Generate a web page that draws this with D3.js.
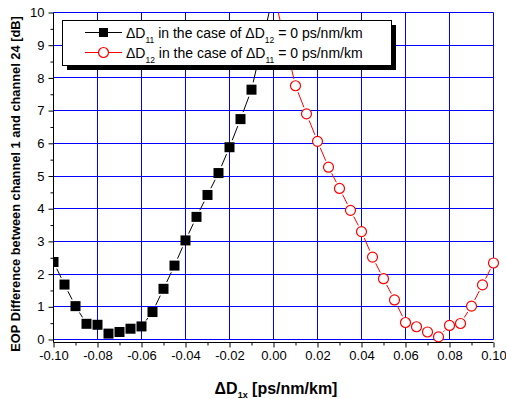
<!DOCTYPE html>
<html><head><meta charset="utf-8">
<script src="https://cdn.jsdelivr.net/npm/d3@7"></script>
<style>body{margin:0;background:#fff} text{font-family:"Liberation Sans",Arial,sans-serif}</style>
</head><body><svg id="c" width="506" height="399"></svg>
<script>
// ---- data ----
const blackX = [-0.100,-0.095,-0.090,-0.085,-0.080,-0.075,-0.070,-0.065,-0.060,-0.055,-0.050,-0.045,-0.040,-0.035,-0.030,-0.025,-0.020,-0.015,-0.010,-0.005,0.000];
const blackY = [2.37,1.68,1.02,0.48,0.45,0.18,0.23,0.33,0.40,0.84,1.55,2.26,3.03,3.75,4.42,5.09,5.88,6.74,7.64,9.10,10.60];
const redX = [0.000,0.005,0.010,0.015,0.020,0.025,0.030,0.035,0.040,0.045,0.050,0.055,0.060,0.065,0.070,0.075,0.080,0.085,0.090,0.095,0.100];
const redY = [10.60,9.20,7.76,6.90,6.06,5.27,4.62,3.95,3.30,2.52,1.86,1.21,0.52,0.39,0.23,0.08,0.43,0.49,1.02,1.67,2.34];
const xMajorTicks = [-0.10,-0.08,-0.06,-0.04,-0.02,0.00,0.02,0.04,0.06,0.08,0.10];
const xMinorTicks = [-0.09,-0.07,-0.05,-0.03,-0.01,0.01,0.03,0.05,0.07,0.09];
const yMajorTicks = [0,1,2,3,4,5,6,7,8,9,10];
const yMinorTicks = [0.5,1.5,2.5,3.5,4.5,5.5,6.5,7.5,8.5,9.5];
const legendLabels = [
  {main:"\u0394D", sub:"11", rest:" in the case of \u0394D", sub2:"12", tail:" = 0 ps/nm/km"},
  {main:"\u0394D", sub:"12", rest:" in the case of \u0394D", sub2:"11", tail:" = 0 ps/nm/km"}
];

const svg = d3.select("#c");
svg.append("rect").attr("width",506).attr("height",399).attr("fill","#fff");
const L = 53.5, R = 493.5, T = 12.5, B = 339.5;
const x = d3.scaleLinear().domain([-0.1,0.1]).range([L,R]);
const y = d3.scaleLinear().domain([0,10]).range([B,T]);

// grid
const g = svg.append("g");
g.selectAll(".vg").data(xMajorTicks.slice(1)).join("line")
  .attr("x1",d=>Math.round(x(d)-0.5)+0.5).attr("x2",d=>Math.round(x(d)-0.5)+0.5)
  .attr("y1",T).attr("y2",B).attr("stroke","#0000ff").attr("stroke-width",1);
g.selectAll(".hg").data(yMajorTicks).join("line")
  .attr("y1",d=>Math.round(y(d)-0.5)+0.5).attr("y2",d=>Math.round(y(d)-0.5)+0.5)
  .attr("x1",L).attr("x2",R).attr("stroke","#0000ff").attr("stroke-width",1);

// clip
svg.append("clipPath").attr("id","clip").append("rect").attr("x",L).attr("y",T-0.5).attr("width",R-L+6).attr("height",B-T+6);
const plot = svg.append("g").attr("clip-path","url(#clip)");

function segs(xs, ys, trim){
  const out=[];
  for(let i=0;i<xs.length-1;i++){
    const x1=x(xs[i]),y1=y(ys[i]),x2=x(xs[i+1]),y2=y(ys[i+1]);
    const dx=x2-x1,dy=y2-y1,d=Math.hypot(dx,dy);
    if(d>2*trim){const ux=dx/d,uy=dy/d;out.push([x1+ux*trim,y1+uy*trim,x2-ux*trim,y2-uy*trim]);}
  }
  return out;
}
plot.selectAll(".bl").data(segs(blackX,blackY,7.5)).join("line")
  .attr("x1",d=>d[0]).attr("y1",d=>d[1]).attr("x2",d=>d[2]).attr("y2",d=>d[3])
  .attr("stroke","#000").attr("stroke-width",1);
plot.selectAll(".rl").data(segs(redX,redY,7)).join("line")
  .attr("x1",d=>d[0]).attr("y1",d=>d[1]).attr("x2",d=>d[2]).attr("y2",d=>d[3])
  .attr("stroke","#ff0000").attr("stroke-width",1);
const bIdx = d3.range(blackX.length).filter(i=>blackY[i]<=10);
plot.selectAll(".sq").data(bIdx).join("rect")
  .attr("x",i=>x(blackX[i])-5).attr("y",i=>y(blackY[i])-5).attr("width",10).attr("height",10)
  .attr("fill","#000");
const rIdx = d3.range(redX.length).filter(i=>redY[i]<=10);
plot.selectAll(".ci").data(rIdx).join("circle")
  .attr("cx",i=>x(redX[i])).attr("cy",i=>y(redY[i])).attr("r",5)
  .attr("fill","#fff").attr("stroke","#ff0000").attr("stroke-width",1.2);

// axes
const axY = 342.5;
const FF = "Liberation Sans, Arial, sans-serif";
const xAxis = svg.append("g").attr("transform",`translate(0,${axY})`)
  .call(d3.axisBottom(x).tickValues(xMajorTicks).tickSize(5).tickFormat(d=>d.toFixed(2)));
svg.append("g").attr("transform",`translate(0,${axY})`)
  .call(d3.axisBottom(x).tickValues(xMinorTicks).tickSize(3).tickFormat(""))
  .call(a=>a.select(".domain").remove());
xAxis.select(".domain").attr("d",`M${L},0H${R}`);
xAxis.selectAll("text").attr("font-size",13).attr("fill","#000").attr("y",8).attr("font-family",FF);

const yAxis = svg.append("g").attr("transform",`translate(${L},0)`)
  .call(d3.axisLeft(y).tickValues(yMajorTicks).tickSize(5).tickFormat(d3.format("d")));
svg.append("g").attr("transform",`translate(${L},0)`)
  .call(d3.axisLeft(y).tickValues(yMinorTicks).tickSize(3).tickFormat(""))
  .call(a=>a.select(".domain").remove());
yAxis.select(".domain").attr("d",`M0,${T}V${axY}`);
yAxis.selectAll("text").attr("font-size",13).attr("fill","#000").attr("x",-9).attr("font-family",FF);
svg.selectAll(".tick line").attr("stroke","#000");

// axis titles
const xt = svg.append("text").attr("x",276).attr("y",394).attr("text-anchor","middle")
  .attr("font-size",16).attr("font-weight","bold");
xt.append("tspan").text("\u0394D");
xt.append("tspan").attr("dy",4).attr("font-size",9).text("1x");
xt.append("tspan").attr("dy",-4).text(" [ps/nm/km]");

svg.append("text").attr("transform","translate(20,184) rotate(-90)").attr("text-anchor","middle")
  .attr("font-size",12.8).attr("font-weight","bold")
  .text("EOP Difference between channel 1 and channel 24 [dB]");

// legend
const lg = svg.append("g");
lg.append("rect").attr("x",67).attr("y",25).attr("width",329).attr("height",45).attr("fill","#000");
lg.append("rect").attr("x",62.5).attr("y",20.5).attr("width",329).attr("height",45).attr("fill","#fff").attr("stroke","#000");
legendLabels.forEach((lab,i)=>{
  const yy = 32.5 + i*20;
  lg.append("line").attr("x1",85).attr("x2",122).attr("y1",yy).attr("y2",yy)
    .attr("stroke", i===0?"#000":"#ff0000");
  if(i===0) lg.append("rect").attr("x",99).attr("y",yy-4.5).attr("width",9).attr("height",9).attr("fill","#000");
  else lg.append("circle").attr("cx",103.5).attr("cy",yy).attr("r",5).attr("fill","#fff").attr("stroke","#ff0000").attr("stroke-width",1.2);
  const t = lg.append("text").attr("x",126).attr("y",yy+5).attr("font-size",14);
  t.append("tspan").text(lab.main);
  t.append("tspan").attr("dy",5).attr("font-size",8.5).text(lab.sub);
  t.append("tspan").attr("dy",-5).text(lab.rest);
  t.append("tspan").attr("dy",5).attr("font-size",8.5).text(lab.sub2);
  t.append("tspan").attr("dy",-5).text(lab.tail);
});
</script></body></html>
